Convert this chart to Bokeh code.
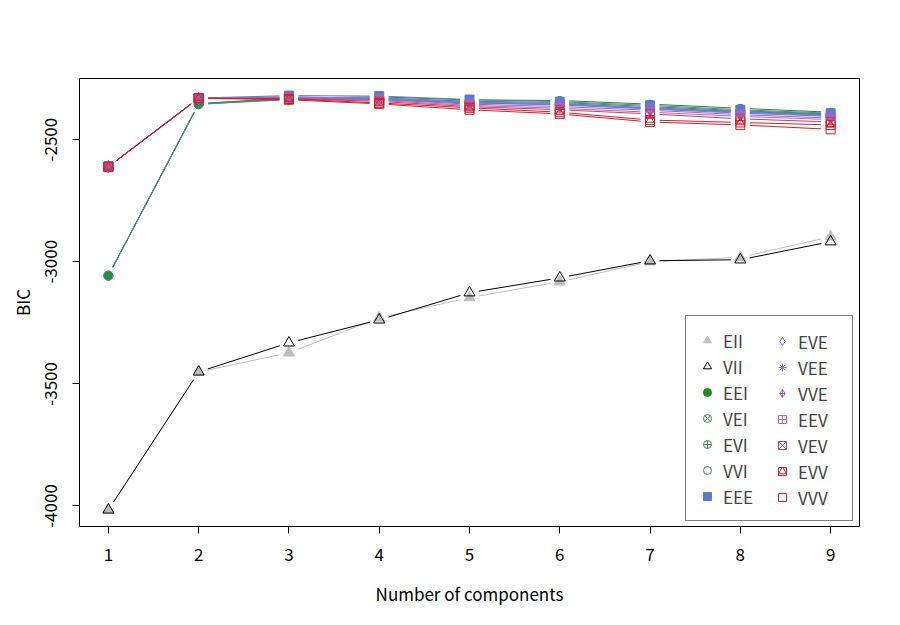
import numpy as np
from bokeh.plotting import figure
from bokeh.models import Range1d, FixedTicker, Legend, LegendItem, ColumnDataSource, Title
from bokeh.embed import file_html
from bokeh.resources import INLINE

components = [1, 2, 3, 4, 5, 6, 7, 8, 9]
y_ticks = [-4000, -3500, -3000, -2500]
y_tick_labels = ["-4000", "-3500", "-3000", "-2500"]

EII = [-4016, -3451, -3373, -3230, -3147, -3082, -3000, -2982, -2898]
VII = [-4016, -3451, -3332, -3238, -3127, -3066, -2996, -2992, -2918]
EEI = [-3057, -2353, -2330, -2325, -2338, -2340, -2355, -2372, -2388]
VEI = [-3057, -2356, -2333, -2330, -2343, -2348, -2365, -2382, -2395]
EVI = [-3057, -2352, -2335, -2333, -2348, -2352, -2370, -2385, -2398]
VVI = [-3057, -2355, -2337, -2336, -2350, -2356, -2372, -2388, -2400]
EEE = [-2611, -2330, -2320, -2322, -2336, -2345, -2360, -2378, -2392]
EVE = [-2611, -2331, -2325, -2332, -2350, -2358, -2375, -2392, -2405]
VEE = [-2611, -2332, -2326, -2330, -2346, -2354, -2372, -2390, -2403]
VVE = [-2611, -2333, -2328, -2336, -2355, -2365, -2380, -2398, -2412]
EEV = [-2611, -2331, -2330, -2340, -2360, -2372, -2388, -2405, -2418]
VEV = [-2611, -2332, -2332, -2344, -2365, -2378, -2395, -2415, -2428]
EVV = [-2611, -2330, -2334, -2350, -2370, -2388, -2420, -2430, -2440]
VVV = [-2611, -2331, -2337, -2354, -2378, -2395, -2428, -2440, -2458]

models = ["EII", "VII", "EEI", "VEI", "EVI", "VVI", "EEE",
          "EVE", "VEE", "VVE", "EEV", "VEV", "EVV", "VVV"]
values = {"EII": EII, "VII": VII, "EEI": EEI, "VEI": VEI, "EVI": EVI, "VVI": VVI,
          "EEE": EEE, "EVE": EVE, "VEE": VEE, "VVE": VVE, "EEV": EEV, "VEV": VEV,
          "EVV": EVV, "VVV": VVV}
colors = {"EII": "#BEBEBE", "VII": "#000000", "EEI": "#218B21", "VEI": "#41884F",
          "EVI": "#3F8F4F", "VVI": "#4F7FA8", "EEE": "#5A7CC2", "EVE": "#587AE0",
          "VEE": "#7B7BEE", "VVE": "#A05FCF", "EEV": "#C060A0", "VEV": "#C2406F",
          "EVV": "#CC2233", "VVV": "#E41A1C"}
# (marker, filled, size)
markers = {"EII": [("triangle", True, 11)], "VII": [("triangle", False, 11)],
           "EEI": [("circle", True, 8)], "VEI": [("circle_x", False, 9)],
           "EVI": [("circle_cross", False, 9)], "VVI": [("circle", False, 9)],
           "EEE": [("square", True, 9)], "EVE": [("diamond", False, 12)],
           "VEE": [("asterisk", False, 10)], "VVE": [("diamond_cross", False, 12)],
           "EEV": [("square_cross", False, 9)], "VEV": [("square_x", False, 9)],
           "EVV": [("square", False, 9), ("triangle", False, 8)],
           "VVV": [("square", False, 9)]}

FONT = "Noto Sans CJK JP"
FS = "17px"

W, H = 900, 625
ML, MR, MT, MB = 79, 41, 78, 99
X0, X1 = 0.68, 9.32
Y0, Y1 = -4084, -2250

p = figure(width=W, height=H, output_backend="svg", toolbar_location=None,
           x_range=Range1d(X0, X1), y_range=Range1d(Y0, Y1),
           min_border_left=ML, min_border_right=MR, min_border_top=MT, min_border_bottom=MB)
p.grid.visible = False
p.outline_line_color = "black"
p.outline_line_width = 1
p.background_fill_color = "white"
p.border_fill_color = "white"

for ax in (p.xaxis[0], p.yaxis[0]):
    ax.axis_line_color = None
    ax.major_tick_out = 7
    ax.major_tick_in = 0
    ax.minor_tick_line_color = None
    ax.major_label_text_font = FONT
    ax.major_label_text_font_size = FS
    ax.major_label_text_color = "black"
    ax.axis_label_text_font = FONT
    ax.axis_label_text_font_size = FS
    ax.axis_label_text_font_style = "normal"
    ax.axis_label_text_color = "black"

p.xaxis.ticker = FixedTicker(ticks=components)
p.yaxis.ticker = FixedTicker(ticks=y_ticks)
p.yaxis.major_label_overrides = {t: s for t, s in zip(y_ticks, y_tick_labels)}
p.xaxis.axis_label = "Number of components"
p.yaxis.major_label_orientation = "vertical"
p.xaxis.major_label_standoff = 14
p.xaxis.axis_label_standoff = 17
p.yaxis.major_label_standoff = 15

# y axis title as a left-side title
p.add_layout(Title(text="BIC", align="center", text_font=FONT, text_font_size=FS,
                   text_font_style="normal", text_color="black", standoff=14), "left")

# pixel scale, used only to leave R-style "type='b'" gaps around the points
sx = (W - ML - MR) / (X1 - X0)
sy = (H - MT - MB) / (Y1 - Y0)
GAP = 9.5


def gapped(xs, ys):
    x0s, y0s, x1s, y1s = [], [], [], []
    for i in range(len(xs) - 1):
        dxp = (xs[i + 1] - xs[i]) * sx
        dyp = (ys[i + 1] - ys[i]) * sy
        L = (dxp ** 2 + dyp ** 2) ** 0.5
        if L <= 2 * GAP:
            continue
        f = GAP / L
        x0s.append(xs[i] + f * (xs[i + 1] - xs[i]))
        y0s.append(ys[i] + f * (ys[i + 1] - ys[i]))
        x1s.append(xs[i + 1] - f * (xs[i + 1] - xs[i]))
        y1s.append(ys[i + 1] - f * (ys[i + 1] - ys[i]))
    return dict(x0=x0s, y0=y0s, x1=x1s, y1=y1s)


items = {}
for m in models:
    src = ColumnDataSource(dict(x=components, y=values[m]))
    p.segment("x0", "y0", "x1", "y1", source=ColumnDataSource(gapped(components, values[m])),
              line_color=colors[m], line_width=1)
    rs = []
    for mk, filled, sz in markers[m]:
        if m == "EII":
            r = p.scatter("x", "y", source=src, marker=mk, size=sz,
                          fill_color=colors[m], line_color=colors[m])
        else:
            r = p.scatter("x", "y", source=src, marker=mk, size=sz,
                          fill_color=colors[m] if filled else None,
                          line_color=colors[m], line_width=1)
        rs.append(r)
    items[m] = rs

common = dict(label_text_font=FONT, label_text_font_size=FS,
              glyph_width=20, glyph_height=26, label_height=26, spacing=0,
              padding=11, label_standoff=6)
legend1 = Legend(items=[LegendItem(label=m, renderers=items[m]) for m in models[:7]],
                 location=(606, 5), border_line_color="black", border_line_width=1,
                 background_fill_alpha=1, label_width=118, **common)
legend2 = Legend(items=[LegendItem(label=m, renderers=items[m]) for m in models[7:]],
                 location=(682, 5), border_line_color="white", border_line_alpha=0,
                 background_fill_alpha=0, label_width=40, **common)
p.add_layout(legend1, "center")
p.add_layout(legend2, "center")

open("out.html", "w").write(file_html(p, INLINE))
